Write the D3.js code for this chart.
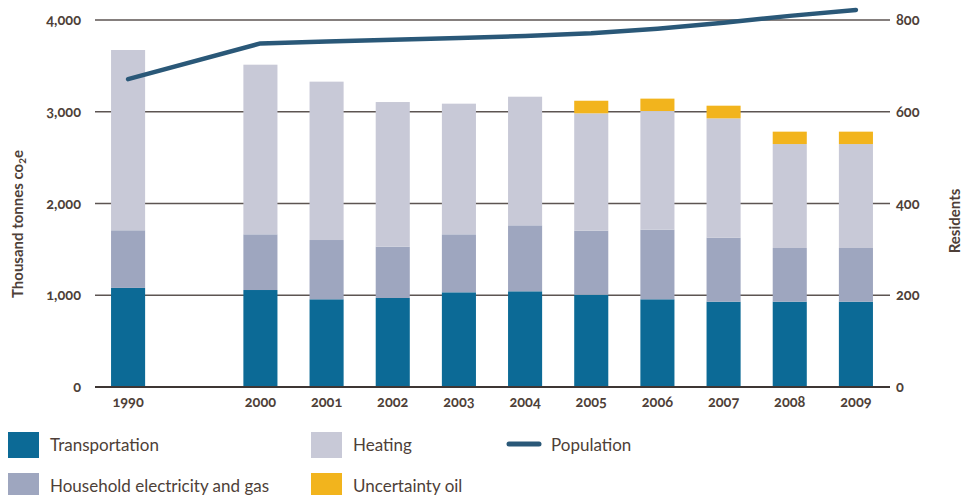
<!DOCTYPE html>
<html>
<head>
<meta charset="utf-8">
<script src="https://cdn.jsdelivr.net/npm/d3@7"></script>
<style>
  html, body { margin: 0; padding: 0; background: #fff; }
  svg { display: block; }
  .tick-label { font-family: Lato, "Open Sans", sans-serif; font-weight: 700; font-size: 14.5px; fill: #4e3f38; font-variant-numeric: oldstyle-nums; }
  .axis-title { font-family: Lato, "Open Sans", sans-serif; font-weight: 700; font-size: 15px; fill: #4e3f38; }
  .legend-label { font-family: Lato, "Open Sans", sans-serif; font-weight: 400; font-size: 17px; fill: #4e3f38; }
</style>
</head>
<body>
<svg id="chart" width="964" height="495"></svg>
<script>
// ---- data ----
const categories = ["1990", "", "2000", "2001", "2002", "2003", "2004", "2005", "2006", "2007", "2008", "2009"];
const transportation = [1080, null, 1057, 956, 970, 1032, 1043, 1006, 956, 930, 930, 930];
const household      = [628,  null, 607, 646, 559, 632, 719, 698, 759, 698, 585, 585];
const heating        = [1965, null, 1849, 1726, 1577, 1424, 1402, 1279, 1293, 1300, 1133, 1133];
const uncertaintyOil = [0,    null, 0, 0, 0, 0, 0, 137, 135, 138, 135, 135];
const population     = [671,  null, 749, 753, 757, 761, 765, 771, 781, 794, 809, 822];
const leftTicks = [0, 1000, 2000, 3000, 4000];
const rightTicks = [0, 200, 400, 600, 800];
const seriesNames = ["Transportation", "Household electricity and gas", "Heating", "Uncertainty oil"];
const seriesColors = ["#0c6a96", "#9ea6bf", "#c8c9d7", "#f2b41d"];
const lineColor = "#2a5878";

// ---- layout ----
const svg = d3.select("#chart");
const mLeft = 95, mRight = 889, mTop = 20, mBottom = 387;

const x = d3.scaleBand().domain(categories).range([mLeft, mRight]).paddingInner(0.485).paddingOuter(0.2425);
const y = d3.scaleLinear().domain([0, 4000]).range([mBottom, mTop]);
const y2 = d3.scaleLinear().domain([0, 800]).range([mBottom, mTop]);

// gridlines
svg.append("g").selectAll("line").data(leftTicks).join("line")
  .attr("x1", mLeft).attr("x2", mRight + 1)
  .attr("y1", d => y(d)).attr("y2", d => y(d))
  .attr("stroke", "#5d5552").attr("stroke-width", d => d === 0 ? 2 : 1.4);

// stacked bars
const rows = categories.map((c, i) => ({
  cat: c,
  Transportation: transportation[i] || 0,
  "Household electricity and gas": household[i] || 0,
  Heating: heating[i] || 0,
  "Uncertainty oil": uncertaintyOil[i] || 0
})).filter(r => r.cat !== "");
const stack = d3.stack().keys(seriesNames)(rows);
svg.append("g").selectAll("g").data(stack).join("g")
  .attr("fill", (d, i) => seriesColors[i])
  .selectAll("rect").data(d => d.filter(p => p[1] > p[0])).join("rect")
  .attr("x", d => x(d.data.cat))
  .attr("width", x.bandwidth())
  .attr("y", d => y(d[1]))
  .attr("height", d => y(d[0]) - y(d[1]));

// redraw baseline over bars
svg.append("line").attr("x1", mLeft).attr("x2", mRight + 1)
  .attr("y1", y(0)).attr("y2", y(0)).attr("stroke", "#3e3634").attr("stroke-width", 2);

// population line
const popPts = categories.map((c, i) => ({ c, v: population[i] })).filter(d => d.v != null);
svg.append("path")
  .datum(popPts)
  .attr("fill", "none").attr("stroke", lineColor).attr("stroke-width", 4.5)
  .attr("stroke-linecap", "round").attr("stroke-linejoin", "round")
  .attr("d", d3.line().x(d => x(d.c) + x.bandwidth() / 2).y(d => y2(d.v)).curve(d3.curveLinear));

// left axis labels
const fmt = d3.format(",");
svg.append("g").selectAll("text").data(leftTicks).join("text")
  .attr("class", "tick-label").attr("x", 81).attr("y", d => y(d)).attr("dy", "0.35em")
  .attr("text-anchor", "end").text(d => fmt(d));

// right axis labels
svg.append("g").selectAll("text").data(rightTicks).join("text")
  .attr("class", "tick-label").attr("x", 896).attr("y", d => y2(d)).attr("dy", "0.35em")
  .attr("text-anchor", "start").text(d => d);

// x axis labels
svg.append("g").selectAll("text").data(categories.filter(c => c !== "")).join("text")
  .attr("class", "tick-label").attr("x", d => x(d) + x.bandwidth() / 2).attr("y", 407)
  .attr("text-anchor", "middle").text(d => d);

// axis titles
const lt = svg.append("text").attr("class", "axis-title")
  .attr("transform", "translate(23,224) rotate(-90)").attr("text-anchor", "middle");
lt.append("tspan").text("Thousand tonnes co");
lt.append("tspan").attr("font-size", "10px").attr("dy", "3").text("2");
lt.append("tspan").attr("dy", "-3").text("e");

svg.append("text").attr("class", "axis-title")
  .attr("transform", "translate(960,221) rotate(-90)").attr("text-anchor", "middle")
  .text("Residents");

// legend
const legendItems = [
  { name: "Transportation", color: seriesColors[0], x: 8, y: 432, type: "rect" },
  { name: "Heating", color: seriesColors[2], x: 311, y: 432, type: "rect" },
  { name: "Population", color: lineColor, x: 507, y: 432, type: "line" },
  { name: "Household electricity and gas", color: seriesColors[1], x: 8, y: 473, type: "rect" },
  { name: "Uncertainty oil", color: seriesColors[3], x: 311, y: 473, type: "rect" }
];
const lg = svg.append("g").selectAll("g").data(legendItems).join("g")
  .attr("transform", d => `translate(${d.x},${d.y})`);
lg.filter(d => d.type === "rect").append("rect")
  .attr("width", 31).attr("height", 26).attr("fill", d => d.color);
lg.filter(d => d.type === "line").append("line")
  .attr("x1", 2).attr("x2", 32).attr("y1", 12).attr("y2", 12)
  .attr("stroke", d => d.color).attr("stroke-width", 5).attr("stroke-linecap", "round");
lg.append("text").attr("class", "legend-label")
  .attr("x", d => d.type === "line" ? 44 : 42).attr("y", 13).attr("dy", "0.35em")
  .text(d => d.name);
</script>
</body>
</html>
